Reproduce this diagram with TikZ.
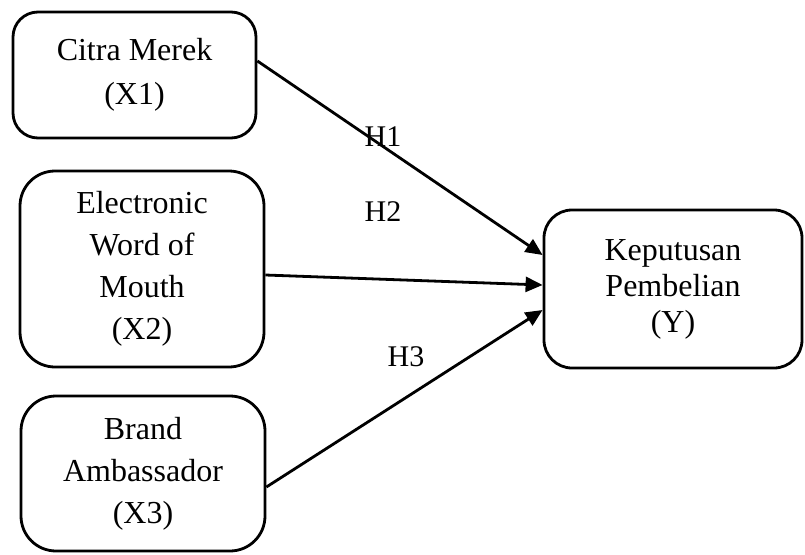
\documentclass[tikz,border=0pt]{standalone}
\usepackage{fontspec}
\setmainfont{Liberation Serif}
\usetikzlibrary{arrows.meta}
\begin{document}
\begin{tikzpicture}[x=1pt,y=-1pt,
  varbox/.style={draw=black, line width=2.8pt, align=center, inner sep=0pt},
  hlabel/.style={font=\fontsize{30}{34}\selectfont, inner sep=0pt},
  link/.style={line width=2.8pt, -{Triangle[length=17pt,width=15pt]}}]
\useasboundingbox (0,0) rectangle (805,554);
\node[varbox, rounded corners=25pt, minimum width=243pt, minimum height=126pt,
      font=\fontsize{32}{44}\selectfont] (x1) at (134.5,75) {Citra Merek\\(X1)};
\node[varbox, rounded corners=35pt, minimum width=244pt, minimum height=196pt,
      font=\fontsize{32}{42}\selectfont] (x2) at (142,269) {Electronic\\Word of\\Mouth\\(X2)};
\node[varbox, rounded corners=35pt, minimum width=244pt, minimum height=155pt,
      font=\fontsize{32}{42}\selectfont] (x3) at (143,473.5) {Brand\\Ambassador\\(X3)};
\node[varbox, rounded corners=28pt, minimum width=258pt, minimum height=158pt,
      font=\fontsize{32}{36}\selectfont] (y) at (673,289) {Keputusan\\Pembelian\\(Y)};
\node[hlabel] (h1) at (383,137) {H1};
\node[hlabel] (h2) at (383,212) {H2};
\node[hlabel] (h3) at (406,357) {H3};
\draw[link] ([yshift=14pt]x1.east) -- ([yshift=34pt]y.west);
\draw[link] ([yshift=-6pt]x2.east) -- ([yshift=4pt]y.west);
\draw[link] ([yshift=-13.5pt]x3.east) -- ([yshift=-21pt]y.west);
\end{tikzpicture}
\end{document}
